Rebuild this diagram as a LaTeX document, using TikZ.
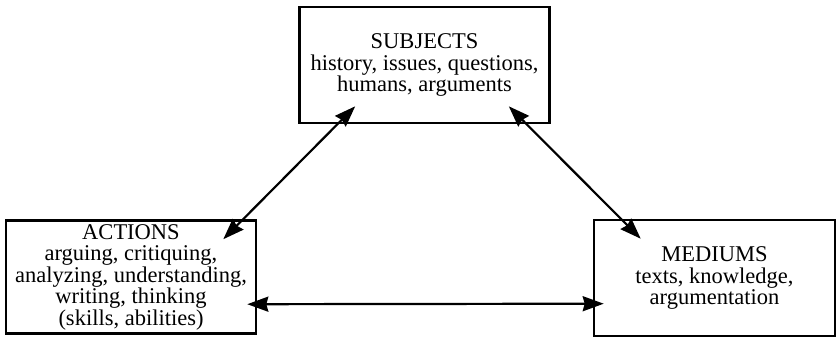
\documentclass[tikz,border=0pt]{standalone}
\usepackage{fontspec}
\setmainfont{Liberation Serif}
\usetikzlibrary{arrows.meta,calc}
\tikzset{
  topicbox/.style={draw, line width=2.6pt, align=center,
                   minimum width=#1, minimum height=114pt,
                   inner sep=0pt, font=\fontsize{22.5}{21.5}\selectfont},
  topicbox/.default=250pt,
  link/.style={{Stealth[length=21pt,width=15pt,inset=2pt]}-{Stealth[length=21pt,width=15pt,inset=2pt]},
               line width=2.2pt},
}
\begin{document}
\begin{tikzpicture}[x=1pt,y=-1pt]
  \useasboundingbox (0,0) rectangle (840,338);
  \node[topicbox, minimum height=116pt] (subj) at (424.5,65)
        {SUBJECTS\\history, issues, questions,\\humans, arguments};
  \node[topicbox, minimum height=113pt] (act) at (131,277)
        {ACTIONS\\arguing, critiquing,\\analyzing, understanding,\\writing, thinking\\(skills, abilities)};
  \node[topicbox=241pt, minimum height=116pt] (med) at (714.5,278)
        {MEDIUMS\\texts, knowledge,\\argumentation};

  % arrow ends sit just inside the boxes
  \coordinate (subjl) at ($(subj.south west)+(57,-18)$);
  \coordinate (subjr) at ($(subj.south east)+(-42,-18)$);
  \coordinate (actt)  at ($(act.north east)+(-34,20)$);
  \coordinate (actr)  at ($(act.north east)+(-10,85)$);
  \coordinate (medt)  at ($(med.north west)+(48,20)$);
  \coordinate (medl)  at ($(med.north west)+(11,85)$);

  \draw[link] (actt) -- (subjl);
  \draw[link] (subjr) -- (medt);
  \draw[link] (actr) -- (medl);
\end{tikzpicture}
\end{document}
